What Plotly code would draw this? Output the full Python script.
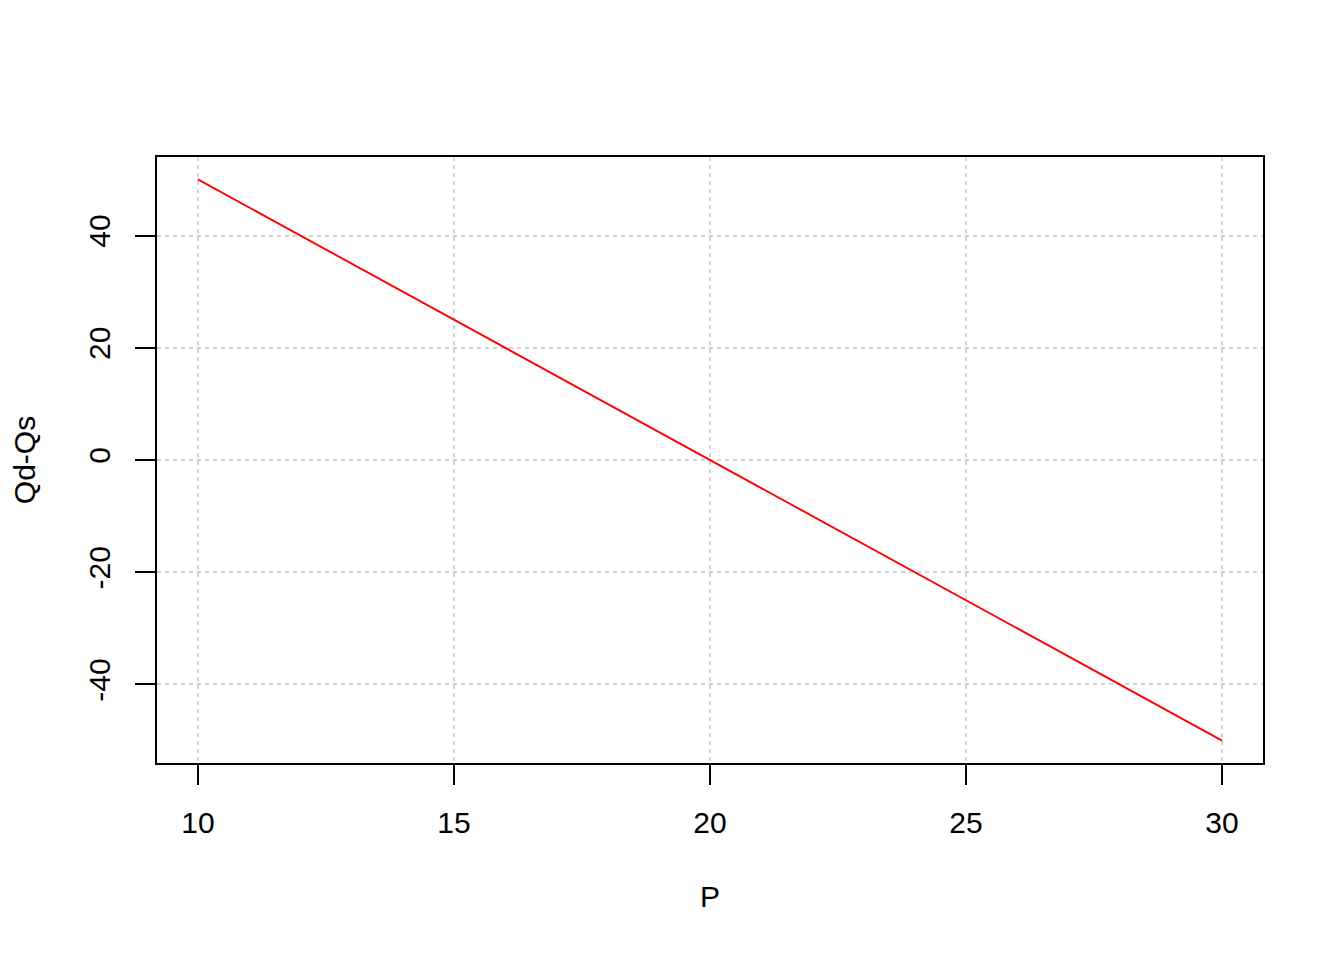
import plotly.graph_objects as go

P = [10, 15, 20, 25, 30]
diff = [50, 25, 0, -25, -50]
x_ticks = [10, 15, 20, 25, 30]
y_ticks = [-40, -20, 0, 20, 40]
y_tick_text = ["-40", "-20", "0", "20", "40"]

font = dict(family="Liberation Sans, Arial, Helvetica, sans-serif", size=30, color="black")

fig = go.Figure()
fig.add_trace(go.Scatter(x=P, y=diff, mode="lines",
                         line=dict(color="red", width=1.9), showlegend=False))

axis_common = dict(
    showline=True, mirror=True, linecolor="black", linewidth=2,
    ticks="outside", ticklen=20, tickwidth=2, tickcolor="black",
    showgrid=True, gridcolor="#d3d3d3", gridwidth=2, griddash="4px,4px",
    zeroline=False, tickfont=font, automargin=False,
)

fig.update_layout(
    width=1344, height=960,
    margin=dict(l=149, r=89, t=149, b=205),
    paper_bgcolor="white", plot_bgcolor="white",
    font=font,
    xaxis=dict(range=[9.2, 30.8], tickvals=x_ticks, ticklabelstandoff=12,
               title=dict(text="P", font=font, standoff=48), **axis_common),
    yaxis=dict(range=[-54, 54], tickvals=y_ticks, ticktext=y_tick_text,
               tickangle=-90, ticklabelstandoff=13,
               title=dict(text="Qd-Qs", font=font, standoff=48), **axis_common),
)

fig.write_html("out.html")
